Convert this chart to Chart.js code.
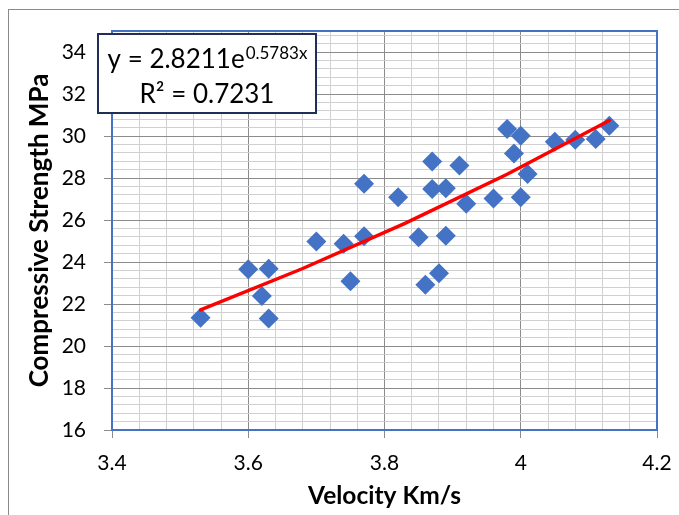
<!DOCTYPE html>
<html>
<head>
<meta charset="utf-8">
<script src="https://cdn.jsdelivr.net/npm/chart.js@4.4.1/dist/chart.umd.min.js"></script>
<style>
  html, body { margin: 0; padding: 0; background: #fff; }
  #wrap { width: 679px; height: 515px; }
</style>
</head>
<body>
<div id="wrap"><canvas id="strengthChart" width="679" height="515"></canvas></div>
<script>
// Data
const velocity = [3.53, 3.60, 3.62, 3.63, 3.63, 3.70, 3.74, 3.75, 3.77, 3.77,
                  3.82, 3.85, 3.86, 3.87, 3.87, 3.88, 3.89, 3.89, 3.91, 3.92,
                  3.96, 3.98, 3.99, 4.00, 4.00, 4.01, 4.05, 4.08, 4.11, 4.13];
const strength = [21.35, 23.65, 22.38, 23.68, 21.31, 24.98, 24.87, 23.08, 25.23, 27.73,
                  27.08, 25.18, 22.92, 28.79, 27.48, 23.47, 25.25, 27.51, 28.59, 26.77,
                  27.02, 30.33, 29.17, 27.08, 30.01, 28.19, 29.73, 29.82, 29.86, 30.49];

// trend line (exponential fit) read along its length
const trendX = [3.53, 3.68, 3.83, 3.98, 4.13];
const trendY = [21.72, 23.69, 25.84, 28.18, 30.74];

const xTickLabels = ['3.4', '3.6', '3.8', '4', '4.2'];
const yTickLabels = ['16', '18', '20', '22', '24', '26', '28', '30', '32', '34'];

const eqLine1 = 'y = 2.8211e';
const eqSup = '0.5783x';
const eqLine2 = 'R² = 0.7231';

Chart.defaults.font.family = 'Lato';

function isMajor(v, step) {
    return Math.abs(v / step - Math.round(v / step)) < 1e-6;
}

// grid positions (major + minor lines)
function gridValues(min, step, count, digits) {
    var out = [];
    for (var i = 0; i < count; i++) {
        out.push({ value: +(min + step * i).toFixed(digits) });
    }
    return out;
}

var points = velocity.map(function(v, i) { return { x: v, y: strength[i] }; });
var trend = trendX.map(function(v, i) { return { x: v, y: trendY[i] }; });

var majorGrid = '#8c8c8c';
var minorGrid = '#d0d0d0';

var framePlugin = {
    id: 'frame',
    beforeDraw: function(chart) {
        var ctx = chart.ctx;
        ctx.save();
        ctx.fillStyle = '#fff';
        ctx.fillRect(0, 0, chart.width, chart.height);
        // outer chart border
        ctx.strokeStyle = '#8a8a8a';
        ctx.lineWidth = 1;
        ctx.strokeRect(8.5, 9.5, 720, 560);
        ctx.restore();
    },
    beforeDatasetsDraw: function(chart) {
        var a = chart.chartArea;
        var ctx = chart.ctx;
        ctx.save();
        ctx.strokeStyle = '#4472C4';
        ctx.lineWidth = 2;
        ctx.strokeRect(a.left, a.top, a.right - a.left, a.bottom - a.top);
        ctx.restore();
    },
    afterDraw: function(chart) {
        var ctx = chart.ctx;
        ctx.save();
        // equation box
        var bx = 98, by = 34, bw = 218, bh = 79;
        ctx.fillStyle = '#fff';
        ctx.fillRect(bx, by, bw, bh);
        ctx.strokeStyle = '#1f2f55';
        ctx.lineWidth = 2;
        ctx.strokeRect(bx, by, bw, bh);

        ctx.fillStyle = '#000';
        ctx.textBaseline = 'alphabetic';
        ctx.textAlign = 'left';
        var mainFont = '26px Lato';
        var supFont = '17px Lato';
        ctx.font = mainFont;
        var w1 = ctx.measureText(eqLine1).width;
        ctx.font = supFont;
        var w2 = ctx.measureText(eqSup).width;
        var cx = bx + bw / 2;
        var x0 = cx - (w1 + w2) / 2;
        ctx.font = mainFont;
        ctx.fillText(eqLine1, x0, 68);
        ctx.font = supFont;
        ctx.fillText(eqSup, x0 + w1 + 1, 59);

        ctx.font = mainFont;
        ctx.textAlign = 'center';
        ctx.fillText(eqLine2, cx, 103);
        ctx.restore();
    }
};

var ctx = document.getElementById('strengthChart').getContext('2d');
var strengthChart = new Chart(ctx, {
    type: 'scatter',
    data: {
        datasets: [{
            label: 'Trend',
            type: 'line',
            data: trend,
            borderColor: '#ff0000',
            borderWidth: 3.5,
            borderCapStyle: 'round',
            pointRadius: 0,
            fill: false,
            tension: 0,
            order: 1
        }, {
            label: 'Compressive Strength',
            data: points,
            pointStyle: 'rectRot',
            pointRadius: 10,
            pointBorderWidth: 0,
            backgroundColor: '#4472C4',
            borderColor: '#4472C4',
            order: 2
        }]
    },
    options: {
        responsive: false,
        animation: false,
        layout: { padding: { left: 0, top: 31, right: 22, bottom: 0 } },
        plugins: {
            legend: { display: false },
            tooltip: { enabled: false }
        },
        scales: {
            x: {
                type: 'linear',
                min: 3.4,
                max: 4.2,
                afterBuildTicks: function(axis) {
                    axis.ticks = gridValues(3.4, 0.04, 21, 2);
                },
                afterFit: function(axis) {
                    axis.height = 85;
                    axis.paddingLeft = 0;
                    axis.paddingRight = 0;
                },
                border: { display: false },
                grid: {
                    color: function(c) { return isMajor(c.tick.value, 0.2) ? majorGrid : minorGrid; },
                    tickColor: function(c) { return isMajor(c.tick.value, 0.2) ? majorGrid : 'rgba(0,0,0,0)'; },
                    tickLength: 8,
                    lineWidth: 1
                },
                ticks: {
                    autoSkip: false,
                    maxRotation: 0,
                    padding: 13,
                    color: '#000',
                    font: { size: 21 },
                    callback: function(value) {
                        if (!isMajor(value, 0.2)) return '';
                        return xTickLabels[Math.round((value - 3.4) / 0.2)];
                    }
                },
                title: {
                    display: true,
                    text: 'Velocity Km/s',
                    color: '#000',
                    font: { size: 24.5, weight: 'bold' },
                    padding: { top: 0, bottom: 4 }
                }
            },
            y: {
                type: 'linear',
                min: 16,
                max: 35,
                afterBuildTicks: function(axis) {
                    axis.ticks = gridValues(16, 0.4, 48, 1);
                },
                afterFit: function(axis) {
                    axis.width = 112;
                    axis.paddingTop = 0;
                    axis.paddingBottom = 0;
                },
                border: { display: false },
                grid: {
                    color: function(c) { return isMajor(c.tick.value, 2) ? majorGrid : minorGrid; },
                    tickColor: function(c) { return isMajor(c.tick.value, 2) ? majorGrid : 'rgba(0,0,0,0)'; },
                    tickLength: 8,
                    lineWidth: 1
                },
                ticks: {
                    autoSkip: false,
                    padding: 18,
                    color: '#000',
                    font: { size: 21 },
                    callback: function(value) {
                        if (!isMajor(value, 2)) return '';
                        return yTickLabels[Math.round((value - 16) / 2)];
                    }
                },
                title: {
                    display: true,
                    text: 'Compressive Strength MPa',
                    color: '#000',
                    font: { size: 26, weight: 'bold' },
                    padding: { top: 24, bottom: 0 }
                }
            }
        }
    },
    plugins: [framePlugin]
});
</script>
</body>
</html>
